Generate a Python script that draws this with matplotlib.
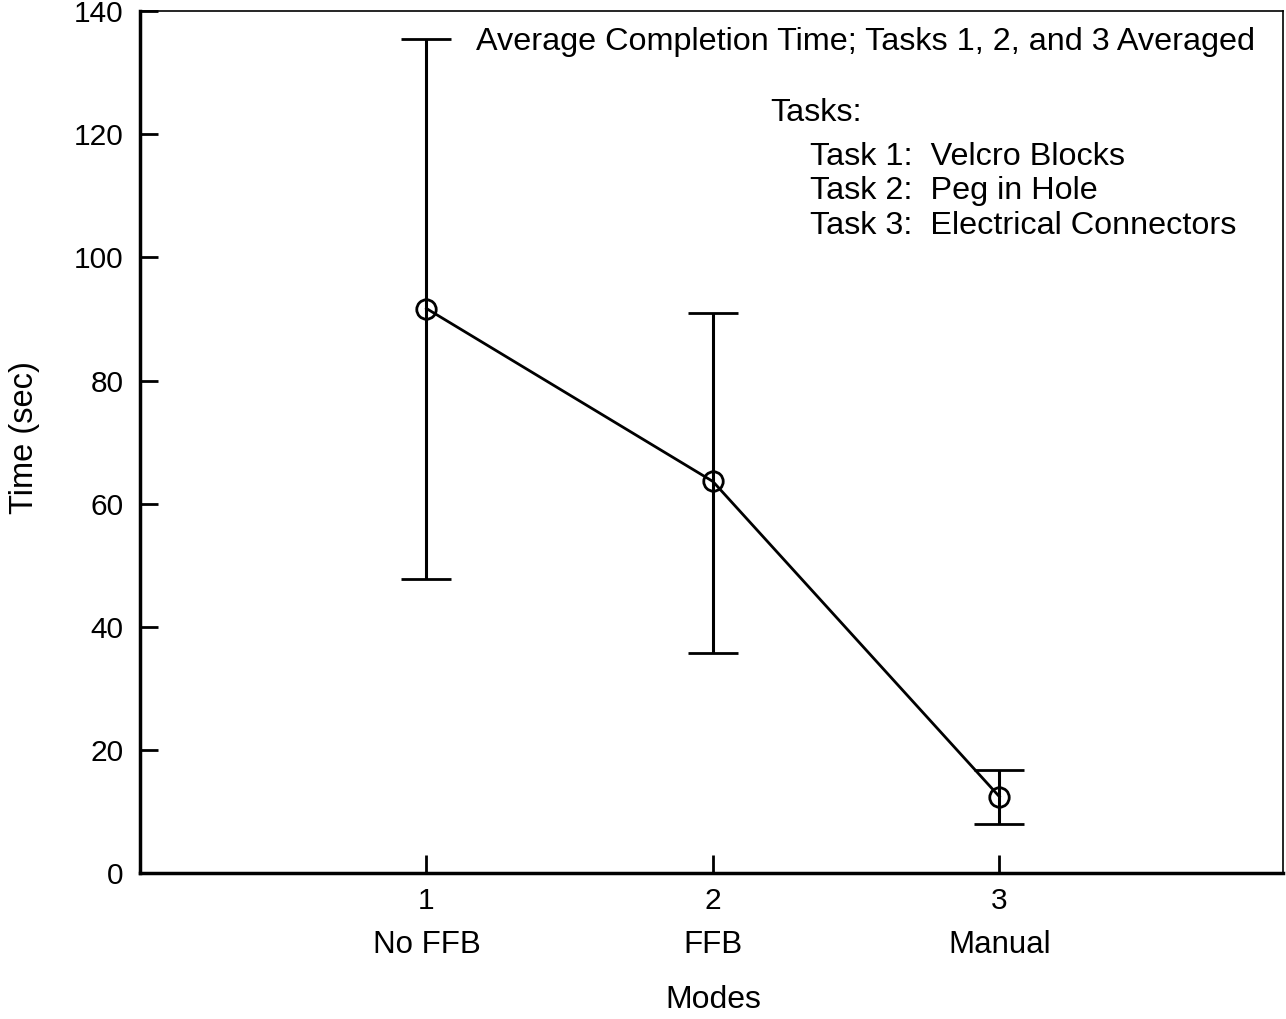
import numpy as np
import matplotlib.pyplot as plt
import matplotlib.transforms as mtransforms

plt.rcParams['font.family'] = ['Liberation Sans', 'DejaVu Sans']

modes = [1, 2, 3]
mode_names = ['No FFB', 'FFB', 'Manual']
avg_time = [91.7, 63.6, 12.4]
err_high = [135.5, 90.9, 16.7]
err_low = [47.8, 35.8, 8.0]

yerr = [np.array(avg_time) - np.array(err_low), np.array(err_high) - np.array(avg_time)]

fig = plt.figure(figsize=(12.86, 10.19), dpi=100)
ax = fig.add_axes([140 / 1286, 0.1433, 1143 / 1286, 0.8457])

ax.errorbar(modes, avg_time, yerr=yerr, color='black', lw=2, elinewidth=2.2,
            capsize=18, capthick=2.2, marker='o', markersize=14, mfc='none',
            mec='black', mew=2)

ax.set_xlim(0, 3.99)
ax.set_ylim(0, 140)
ax.set_xticks(modes)
ax.set_yticks(np.arange(0, 141, 20))
ax.tick_params(direction='in', length=13, width=2, labelsize=21.5, pad=12)
ax.tick_params(axis='x', pad=10)

ax.spines['left'].set_linewidth(2.5)
ax.spines['bottom'].set_linewidth(2.5)
ax.spines['top'].set_linewidth(1.2)
ax.spines['right'].set_linewidth(1.2)

trans = mtransforms.blended_transform_factory(ax.transData, fig.transFigure)
for m, name in zip(modes, mode_names):
    ax.text(m, 1 - 945 / 1019, name, transform=trans, ha='center', va='center', fontsize=22.5)

fig.text(713 / 1286, 1 - 1000 / 1019, 'Modes', ha='center', va='center', fontsize=23)
fig.text(25 / 1286, 1 - 438 / 1019, 'Time (sec)', rotation=90, ha='center', va='center', fontsize=23.5)

ax.text(476 / 1286, 1 - 42 / 1019, 'Average Completion Time; Tasks 1, 2, and 3 Averaged',
        transform=fig.transFigure, ha='left', va='center', fontsize=23.3)
ax.text(770 / 1286, 1 - 113 / 1019, 'Tasks:', transform=fig.transFigure,
        ha='left', va='center', fontsize=23.3)
task_lines = ['Task 1:  Velcro Blocks', 'Task 2:  Peg in Hole', 'Task 3:  Electrical Connectors']
for i, t in enumerate(task_lines):
    ax.text(810 / 1286, 1 - (157 + 34.5 * i) / 1019, t, transform=fig.transFigure,
            ha='left', va='center', fontsize=23.3)

fig.savefig('out.png', dpi=100)
